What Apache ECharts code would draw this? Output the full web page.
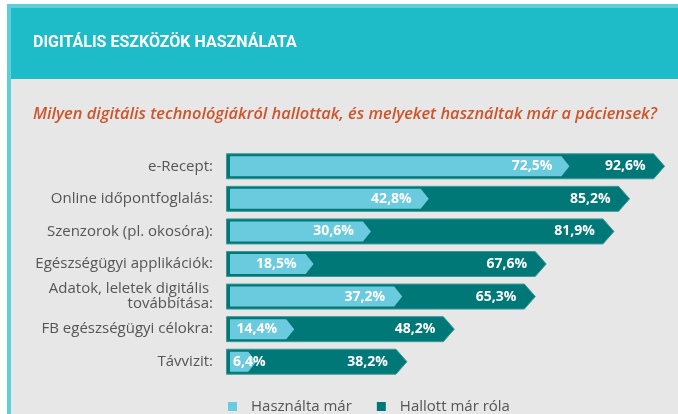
<!DOCTYPE html>
<html>
<head>
<meta charset="utf-8">
<script src="https://cdn.jsdelivr.net/npm/echarts@6/dist/echarts.min.js"></script>
<style>
html,body{margin:0;padding:0;background:#fff;}
#chart{width:678px;height:414px;}
</style>
</head>
<body>
<div id="chart"></div>
<script>
var categories = ['e-Recept:', 'Online időpontfoglalás:', 'Szenzorok (pl. okosóra):', 'Egészségügyi applikációk:', 'Adatok, leletek digitális \ntovábbítása:', 'FB egészségügyi célokra:', 'Távvizit:'];
var usedValues = [72.5, 42.8, 30.6, 18.5, 37.2, 14.4, 6.4];
var heardValues = [92.6, 85.2, 81.9, 67.6, 65.3, 48.2, 38.2];
var seriesNames = ['Használta már', 'Hallott már róla'];
var titleText = 'DIGITÁLIS ESZKÖZÖK HASZNÁLATA';
var subtitleText = 'Milyen digitális technológiákról hallottak, és melyeket használtak már a páciensek?';

var DARK = '#007878', LIGHT = '#6acbdf';
var labelFont = 'bold 14px "Open Sans"';
var measureCtx = document.createElement('canvas').getContext('2d');
function textWidth(t){ measureCtx.font = labelFont; return measureCtx.measureText(t).width; }
function fmt(v){ return v.toFixed(1).replace('.', ',') + '%'; }

var chart = echarts.init(document.getElementById('chart'), null, {renderer:'canvas'});

function arrowPts(x0, xe, yc, h, tip){
  return [[x0, yc - h], [xe - tip, yc - h], [xe, yc], [xe - tip, yc + h], [x0, yc + h]];
}

function renderHeard(params, api){
  var idx = api.value(0);
  var p0 = api.coord([0, idx]);
  var pe = api.coord([api.value(1), idx]);
  var x0 = p0[0], yc = p0[1], xe = pe[0];
  var txt = fmt(api.value(1));
  var w = textWidth(txt);
  var tx = Math.max(xe - 19 - w, x0 + 7);
  return {type:'group', children:[
    {type:'polygon', shape:{points: arrowPts(x0 + 0.5, xe, yc, 12.5, 11)},
     style:{fill: DARK, stroke:'#3d9898', lineWidth:1}},
    {type:'text', x: tx, y: yc, z2: 10,
     style:{text: txt, fill:'#fff', font: labelFont, textAlign:'left', textVerticalAlign:'middle'}}
  ]};
}
function renderUsed(params, api){
  var idx = api.value(0);
  var p0 = api.coord([0, idx]);
  var pe = api.coord([api.value(1), idx]);
  var x0 = p0[0], yc = p0[1], xe = pe[0];
  var txt = fmt(api.value(1));
  var w = textWidth(txt);
  var tx = Math.max(xe - 17 - w, x0 + 7);
  return {type:'group', children:[
    {type:'polygon', shape:{points: arrowPts(x0 + 4, xe, yc, 10, 8)},
     style:{fill: LIGHT}},
    {type:'text', x: tx, y: yc, z2: 10,
     style:{text: txt, fill:'#fff', font: labelFont, textAlign:'left', textVerticalAlign:'middle'}}
  ]};
}

var option = {
  animation: false,
  backgroundColor: '#fff',
  graphic: [
    {type:'rect', shape:{x:7, y:4, width:700, height:420}, style:{fill:'#5ccfd8'}, z:-10},
    {type:'rect', shape:{x:11, y:8, width:700, height:71}, style:{fill:'#1ebcc8'}, z:-9},
    {type:'rect', shape:{x:11, y:79, width:700, height:340}, style:{fill:'#e7e7e7'}, z:-9}
  ],
  title: [
    {text: titleText, left: 28, top: 30,
     textStyle:{color:'#fff', fontFamily:'Roboto', fontWeight:'bold', fontSize:16}},
    {text: subtitleText, left: 28, top: 101,
     textStyle:{color:'#d0542a', fontFamily:'Open Sans', fontStyle:'italic', fontWeight:600, fontSize:16.4}}
  ],
  legend: {
    left: 228, top: 399, padding: 0, icon: 'rect', itemWidth: 9, itemHeight: 9, itemGap: 25,
    data: seriesNames,
    textStyle:{color:'#555', fontFamily:'Open Sans', fontSize:15, padding:[0,0,0,9]}
  },
  grid: {left: 226, top: 150, width: 450, height: 228},
  xAxis: {type:'value', min:0, max:95, show:false},
  yAxis: {type:'category', inverse:true, data: categories,
    axisLine:{show:false}, axisTick:{show:false}, splitLine:{show:false},
    axisLabel:{margin:13, color:'#555', fontFamily:'Open Sans', fontSize:15, lineHeight:15}},
  series: [
    {name: seriesNames[1], type:'custom', renderItem: renderHeard, itemStyle:{color: DARK},
     encode:{x:1, y:0}, z: 2,
     data: heardValues.map(function(v,i){ return [i, v]; })},
    {name: seriesNames[0], type:'custom', renderItem: renderUsed, itemStyle:{color: LIGHT},
     encode:{x:1, y:0}, z: 3,
     data: usedValues.map(function(v,i){ return [i, v]; })}
  ]
};
chart.setOption(option);
</script>
</body>
</html>
